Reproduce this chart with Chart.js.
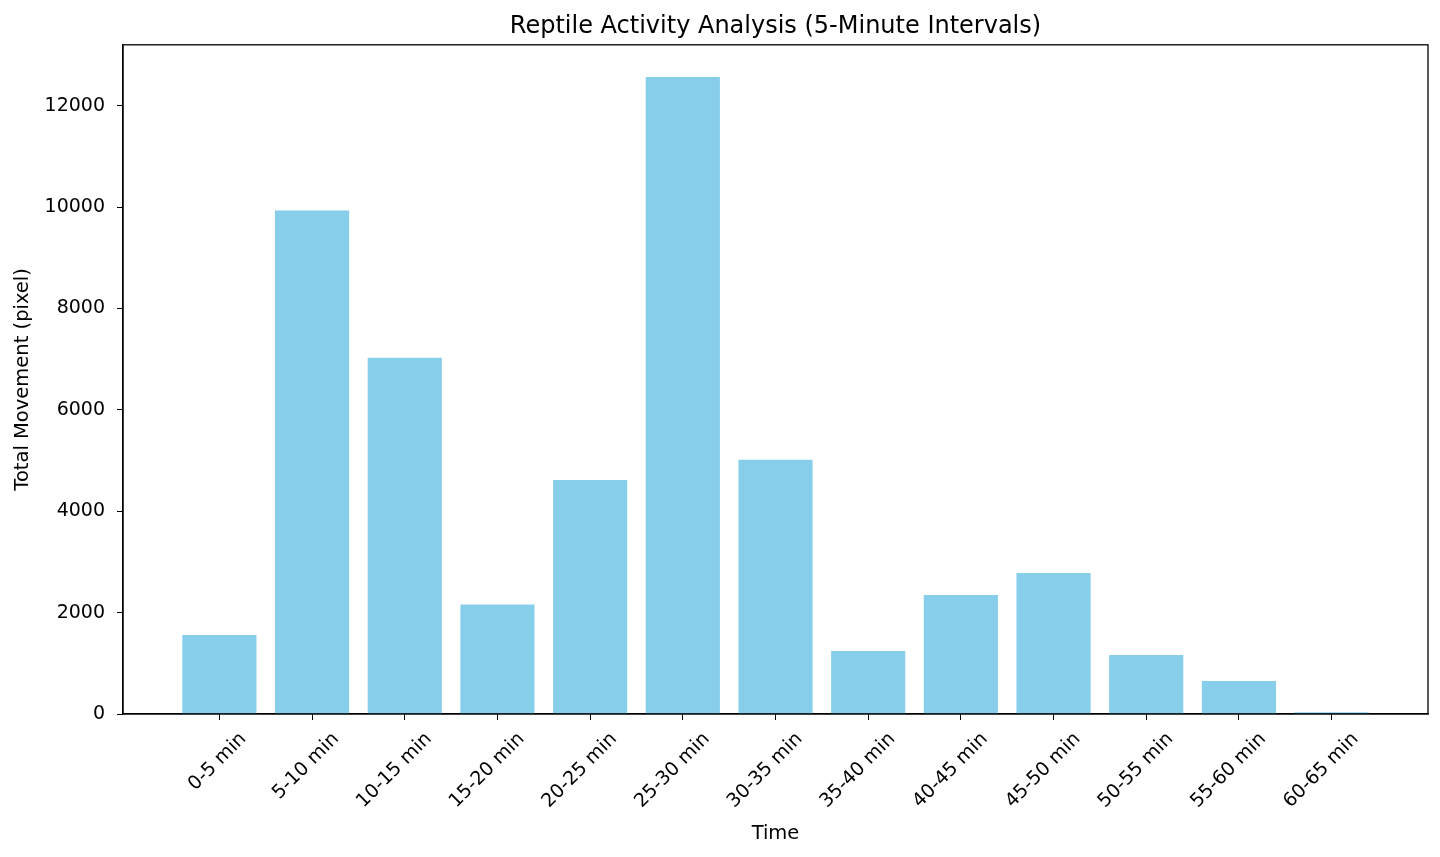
<!DOCTYPE html>
<html>
<head>
<meta charset="utf-8">
<script src="https://cdn.jsdelivr.net/npm/chart.js@4/dist/chart.umd.min.js"></script>
<style>
  html, body { margin: 0; padding: 0; background: #fff; }
  #wrap { width: 1440px; height: 857px; }
</style>
</head>
<body>
<div id="wrap"><canvas id="activityChart" width="1440" height="857"></canvas></div>
<script>
// intervaly a pohyb (odčítané z obrázka)
const intervals = ['0-5 min', '5-10 min', '10-15 min', '15-20 min', '20-25 min', '25-30 min',
    '30-35 min', '35-40 min', '40-45 min', '45-50 min', '50-55 min', '55-60 min', '60-65 min'];
const movement = [1559, 9933, 7026, 2160, 4618, 12566, 5013, 1243, 2349, 2783, 1164, 650, 35];
const yTicks = [0, 2000, 4000, 6000, 8000, 10000, 12000];

const font = 'DejaVu Sans';

// rámček okolo grafu
const frame = {
    id: 'frame',
    afterDraw(chart) {
        const { ctx, chartArea: a } = chart;
        ctx.save();
        ctx.strokeStyle = '#000';
        ctx.lineWidth = 1.3;
        ctx.strokeRect(a.left, a.top, a.right - a.left, a.bottom - a.top);
        ctx.restore();
    }
};

const ctx = document.getElementById('activityChart').getContext('2d');
const chart = new Chart(ctx, {
    type: 'bar',
    data: {
        datasets: [{
            label: 'Total Movement',
            data: movement.map((v, i) => ({ x: i, y: v })),
            backgroundColor: '#87CEEB',
            borderWidth: 0,
            barPercentage: 0.8,
            categoryPercentage: 1.0
        }]
    },
    options: {
        responsive: false,
        devicePixelRatio: 1,
        animation: false,
        layout: { padding: { left: 0, right: 12, top: 0, bottom: 6 } },
        plugins: {
            legend: { display: false },
            tooltip: { enabled: false },
            title: {
                display: true,
                fullSize: false,
                text: 'Reptile Activity Analysis (5-Minute Intervals)',
                color: '#000',
                font: { family: font, size: 24, weight: 'normal' },
                padding: { top: 12, bottom: 4 }
            }
        },
        scales: {
            x: {
                type: 'linear',
                offset: false,
                min: -1.04,
                max: 13.04,
                afterBuildTicks: s => { s.ticks = intervals.map((_, i) => ({ value: i })); },
                afterFit: s => { s.height = 137; },
                ticks: {
                    color: '#000',
                    font: { family: font, size: 19 },
                    autoSkip: false,
                    minRotation: 45,
                    maxRotation: 45,
                    padding: 8,
                    labelOffset: 24,
                    callback: v => intervals[v]
                },
                grid: { offset: false, drawOnChartArea: false, drawTicks: true, tickLength: 6, color: '#000' },
                border: { display: true, color: '#000', width: 1.3 },
                title: {
                    display: true,
                    text: 'Time',
                    color: '#000',
                    font: { family: font, size: 19.5 },
                    padding: { top: 0, bottom: 5 }
                }
            },
            y: {
                min: 0,
                max: 13200,
                afterBuildTicks: s => { s.ticks = yTicks.map(v => ({ value: v })); },
                afterFit: s => { s.width = 123; },
                ticks: {
                    color: '#000',
                    font: { family: font, size: 19 },
                    padding: 12,
                    callback: v => String(v)
                },
                grid: { drawOnChartArea: false, drawTicks: true, tickLength: 6, color: '#000' },
                border: { display: true, color: '#000', width: 1.3 },
                title: {
                    display: true,
                    text: 'Total Movement (pixel)',
                    color: '#000',
                    font: { family: font, size: 19.5 },
                    padding: { top: 11, bottom: 0 }
                }
            }
        }
    },
    plugins: [frame]
});
</script>
</body>
</html>
